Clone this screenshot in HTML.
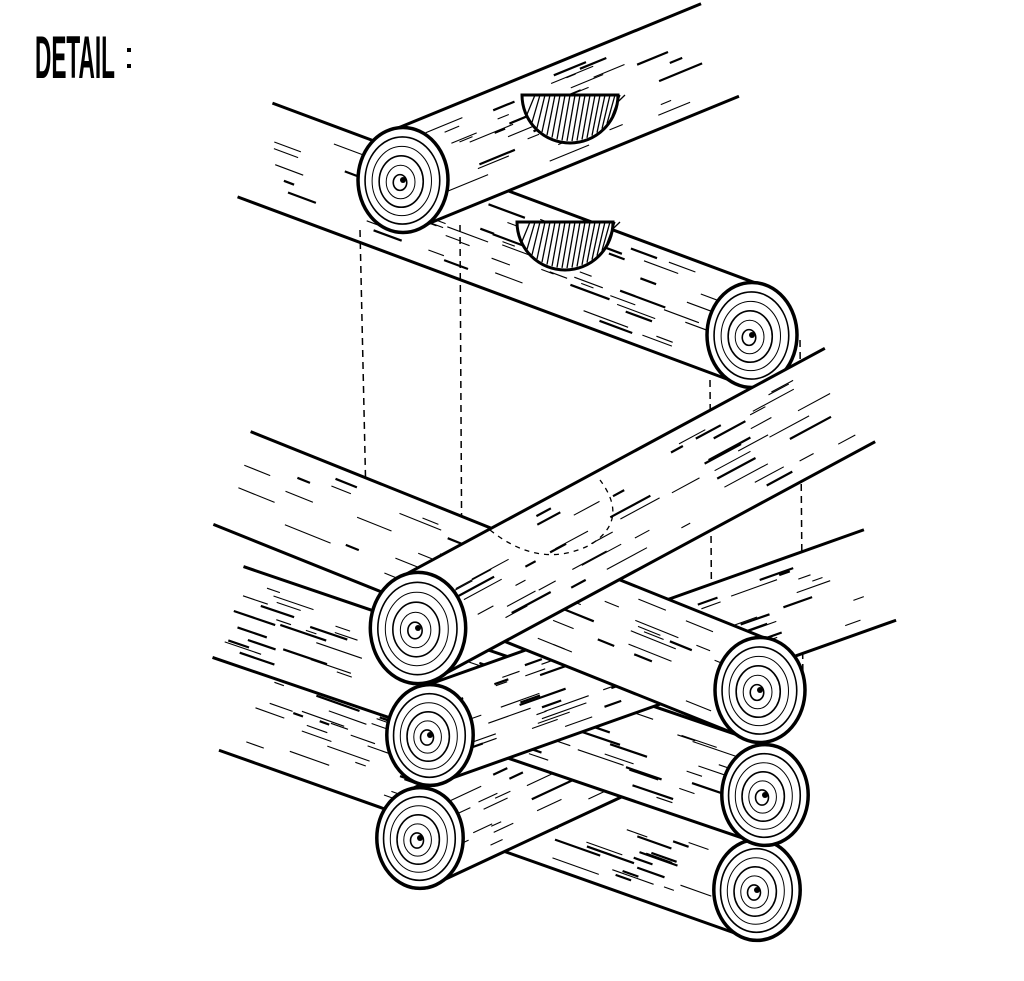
<!DOCTYPE html>
<html><head><meta charset="utf-8">
<style>
html,body{margin:0;padding:0;background:#fff;}
svg{display:block;}
</style></head>
<body>
<svg id="s" width="1024" height="981" viewBox="0 0 1024 981" xmlns="http://www.w3.org/2000/svg">
<rect width="1024" height="981" fill="#fff"/>
<text x="0" y="0" textLength="80" lengthAdjust="spacingAndGlyphs" transform="translate(35,78) scale(1,2.0)" font-family="Liberation Sans, sans-serif" font-weight="bold" font-size="30" fill="#000">DETAIL</text>
<rect x="127" y="48" width="4" height="4" fill="#000"/>
<rect x="127" y="64" width="4" height="4" fill="#000"/>
<g id="g"></g>
</svg>
<script>
var g=document.getElementById('g');var out='';
var seed=7;function rnd(){seed=(seed*9301+49297)%233280;return seed/233280;}
function log(fx,fy,tx,ty,r){
  var dx=tx-fx,dy=ty-fy,L=Math.hypot(dx,dy),ux=dx/L,uy=dy/L,px=-uy,py=ux;
  var a1=[fx+px*r,fy+py*r],a2=[tx+px*r,ty+py*r],b1=[fx-px*r,fy-py*r],b2=[tx-px*r,ty-py*r];
  out+='<polygon points="'+a1+' '+a2+' '+b2+' '+b1+'" fill="#fff" stroke="none"/>';
  out+='<line x1="'+a1[0]+'" y1="'+a1[1]+'" x2="'+a2[0]+'" y2="'+a2[1]+'" stroke="#000" stroke-width="3"/>';
  out+='<line x1="'+b1[0]+'" y1="'+b1[1]+'" x2="'+b2[0]+'" y2="'+b2[1]+'" stroke="#000" stroke-width="3"/>';
  for(var i=0;i<Math.floor(L/9);i++){
    var t=rnd()*L*0.95+r*0.6, o=(rnd()*2-1)*r*0.8, l=10+rnd()*40;
    if(t+l>L-5) continue;
    var x=fx+ux*t+px*o,y=fy+uy*t+py*o;
    out+='<line x1="'+x.toFixed(1)+'" y1="'+y.toFixed(1)+'" x2="'+(x+ux*l).toFixed(1)+'" y2="'+(y+uy*l).toFixed(1)+'" stroke="#000" stroke-width="'+(rnd()<0.3?2.2:1.1)+'"/>';
  }
  var rx=r*0.9,ry=r*1.05;
  out+='<ellipse cx="'+fx+'" cy="'+fy+'" rx="'+rx+'" ry="'+ry+'" fill="#fff" stroke="#000" stroke-width="3.5"/>';
  for(var k=1;k<6;k++){var f=1-k*0.17;
    out+='<ellipse cx="'+(fx-2*k*0.3)+'" cy="'+(fy+k*0.5)+'" rx="'+(rx*f)+'" ry="'+(ry*f)+'" fill="none" stroke="#000" stroke-width="'+(k%2?1.6:1)+'"/>';}
  out+='<circle cx="'+fx+'" cy="'+fy+'" r="3" fill="#000"/>';
}
function notch(cx,cy,r){
  out+='<path d="M'+(cx-r)+','+cy+' A'+r+','+r+' 0 0 0 '+(cx+r)+','+cy+' L'+(cx-r)+','+cy+'Z" fill="#fff" stroke="#000" stroke-width="3"/>';
  for(var x=cx-r+5;x<cx+r;x+=5){var h=Math.sqrt(Math.max(0,r*r-(x-cx)*(x-cx)));
    out+='<line x1="'+x+'" y1="'+(cy+h-2)+'" x2="'+(x+8)+'" y2="'+cy+'" stroke="#000" stroke-width="1.3"/>';}
}
log(752,335,255,150,50);
notch(565,222,48);
log(403,180,720,50,50);
notch(570,95,48);
[[360,230,368,590],[460,225,462,600],[710,380,712,680],[800,340,803,690]].forEach(function(d){
 out+='<line x1="'+d[0]+'" y1="'+d[1]+'" x2="'+d[2]+'" y2="'+d[3]+'" stroke="#000" stroke-width="1.5" stroke-dasharray="7,5"/>';});
log(757,890,235,705,48);
log(420,838,630,740,48);
log(765,795,228,612,48);
log(430,735,880,575,48);
log(760,690,232,478,50);
log(418,628,850,395,53);
out+='<path d="M490,530 Q540,570 590,545 Q630,520 600,480" fill="none" stroke="#000" stroke-width="1.3" stroke-dasharray="5,5"/>';
g.innerHTML=out;
</script>
</body></html>
